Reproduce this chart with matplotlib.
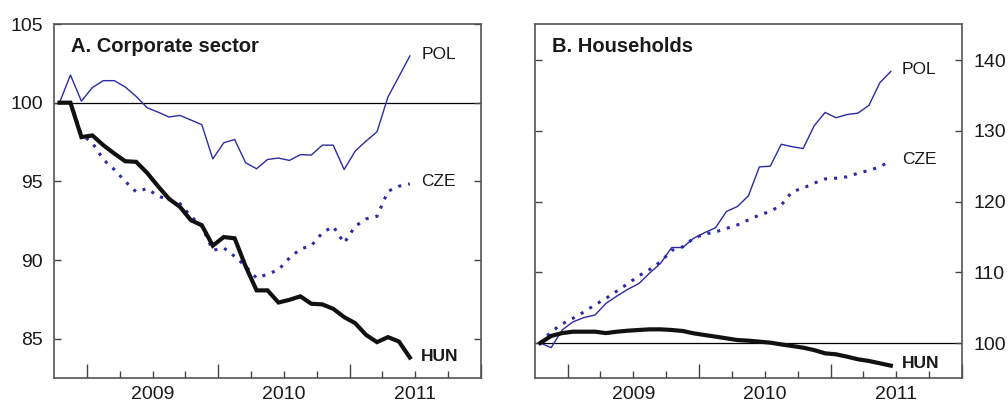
import numpy as np
import matplotlib.pyplot as plt

# monthly index, Oct 2008 .. Jun 2011 (values at mid-month)
months = np.arange(33) + 0.5

corp_pol = [100.0, 101.76, 100.1, 100.96, 101.4, 101.4, 101.0, 100.4, 99.68, 99.4, 99.09,
            99.19, 98.9, 98.6, 96.43, 97.45, 97.66, 96.18, 95.8, 96.39, 96.48, 96.33,
            96.7, 96.67, 97.3, 97.3, 95.75, 96.92, 97.56, 98.15, 100.36, 101.66, 102.97]
corp_cze = [100.0, 100.0, 97.98, 97.45, 96.39, 95.75, 95.0, 94.33, 94.54, 94.06, 93.84,
            93.59, 92.78, 92.14, 90.62, 90.77, 90.23, 89.6, 88.85, 89.1, 89.38, 90.13,
            90.7, 90.91, 91.72, 92.14, 91.08, 92.14, 92.61, 92.78, 94.37, 94.69, 94.84]
corp_hun = [100.0, 100.0, 97.81, 97.92, 97.3, 96.77, 96.28, 96.24, 95.54, 94.69, 93.89,
            93.38, 92.53, 92.21, 90.91, 91.46, 91.38, 89.6, 88.07, 88.07, 87.3, 87.47,
            87.69, 87.22, 87.18, 86.9, 86.37, 85.99, 85.24, 84.78, 85.1, 84.82, 83.8]

hh_pol = [100.0, 99.34, 101.84, 103.0, 103.6, 103.96, 105.6, 106.64, 107.6, 108.4, 109.9,
          111.3, 113.5, 113.5, 114.8, 115.6, 116.3, 118.6, 119.3, 120.8, 124.9, 125.0,
          128.1, 127.75, 127.5, 130.7, 132.6, 131.85, 132.3, 132.5, 133.6, 136.8, 138.4]
hh_cze = [100.0, 101.6, 102.7, 103.5, 104.4, 105.4, 106.3, 107.35, 108.4, 109.5, 110.4,
          111.5, 113.1, 113.6, 114.8, 115.4, 115.7, 116.2, 116.7, 117.4, 118.1, 118.6,
          119.5, 121.4, 121.9, 122.6, 123.2, 123.3, 123.5, 124.0, 124.4, 124.9, 125.8]
hh_hun = [100.0, 101.0, 101.4, 101.6, 101.6, 101.6, 101.4, 101.6, 101.74, 101.84, 101.93,
          101.93, 101.84, 101.7, 101.37, 101.13, 100.9, 100.66, 100.42, 100.33, 100.19,
          100.05, 99.8, 99.58, 99.34, 99.0, 98.54, 98.4, 98.07, 97.7, 97.46, 97.13, 96.8]

year_labels = ['2009', '2010', '2011']

plt.rcParams['font.family'] = ['Liberation Sans', 'DejaVu Sans']
plt.rcParams['text.color'] = '#1a1a1a'
blue = '#2b2ba6'

fig = plt.figure(figsize=(10.08, 4.03), dpi=100)
ax1 = fig.add_axes([0.0536, 0.062, 0.4236, 0.8784])
ax2 = fig.add_axes([0.5305, 0.062, 0.4239, 0.8784])


def style(ax, pol, cze, hun, title, labels_right):
    ax.axhline(100, color='black', lw=0.9, zorder=1)
    ax.plot(months, pol, color=blue, lw=1.0, zorder=2)
    ax.plot(months, cze, color=blue, lw=2.2, linestyle=(0, (1, 2.3)), zorder=3)
    ax.plot(months, hun, color='#111111', lw=3.0, solid_joinstyle='miter', zorder=4)
    ax.set_xlim(0, 39)
    ax.set_xticks([3, 15, 27, 39], labels=['', '', '', ''])
    quarters = [6, 9, 12, 18, 21, 24, 30, 33, 36]
    qlab = ['', year_labels[0], '', '', year_labels[1], '', '', year_labels[2], '']
    ax.set_xticks(quarters, labels=qlab, minor=True)
    ax.tick_params(axis='x', which='major', direction='in', length=10, width=1,
                   color='#444444')
    ax.tick_params(axis='x', which='minor', direction='in', length=5, width=1,
                   labelsize=14, pad=6, color='#444444', labelcolor='#1a1a1a')
    ax.tick_params(axis='y', direction='in', length=5, width=1, labelsize=14,
                   left=True, right=True, labelleft=not labels_right,
                   labelright=labels_right, pad=8, color='#444444',
                   labelcolor='#1a1a1a')
    for s in ax.spines.values():
        s.set_color('#555555')
        s.set_linewidth(1.2)
    ax.text(0.04, 0.921, title, transform=ax.transAxes, fontsize=14.5,
            fontweight='bold', va='baseline', ha='left')


style(ax1, corp_pol, corp_cze, corp_hun, 'A. Corporate sector', False)
ax1.set_ylim(82.5, 105)
ax1.set_yticks([85, 90, 95, 100, 105])
ax1.text(33.55, 103.05, 'POL', fontsize=12.5, va='center')
ax1.text(33.55, 95.0, 'CZE', fontsize=12.5, va='center')
ax1.text(33.55, 83.85, 'HUN', fontsize=12.5, fontweight='bold', va='center')

style(ax2, hh_pol, hh_cze, hh_hun, 'B. Households', True)
ax2.set_ylim(95.05, 145.1)
ax2.set_yticks([100, 110, 120, 130, 140])
ax2.text(33.5, 138.7, 'POL', fontsize=12.5, va='center')
ax2.text(33.5, 126.0, 'CZE', fontsize=12.5, va='center')
ax2.text(33.5, 97.1, 'HUN', fontsize=12.5, fontweight='bold', va='center')

fig.savefig('out.png', dpi=100)
